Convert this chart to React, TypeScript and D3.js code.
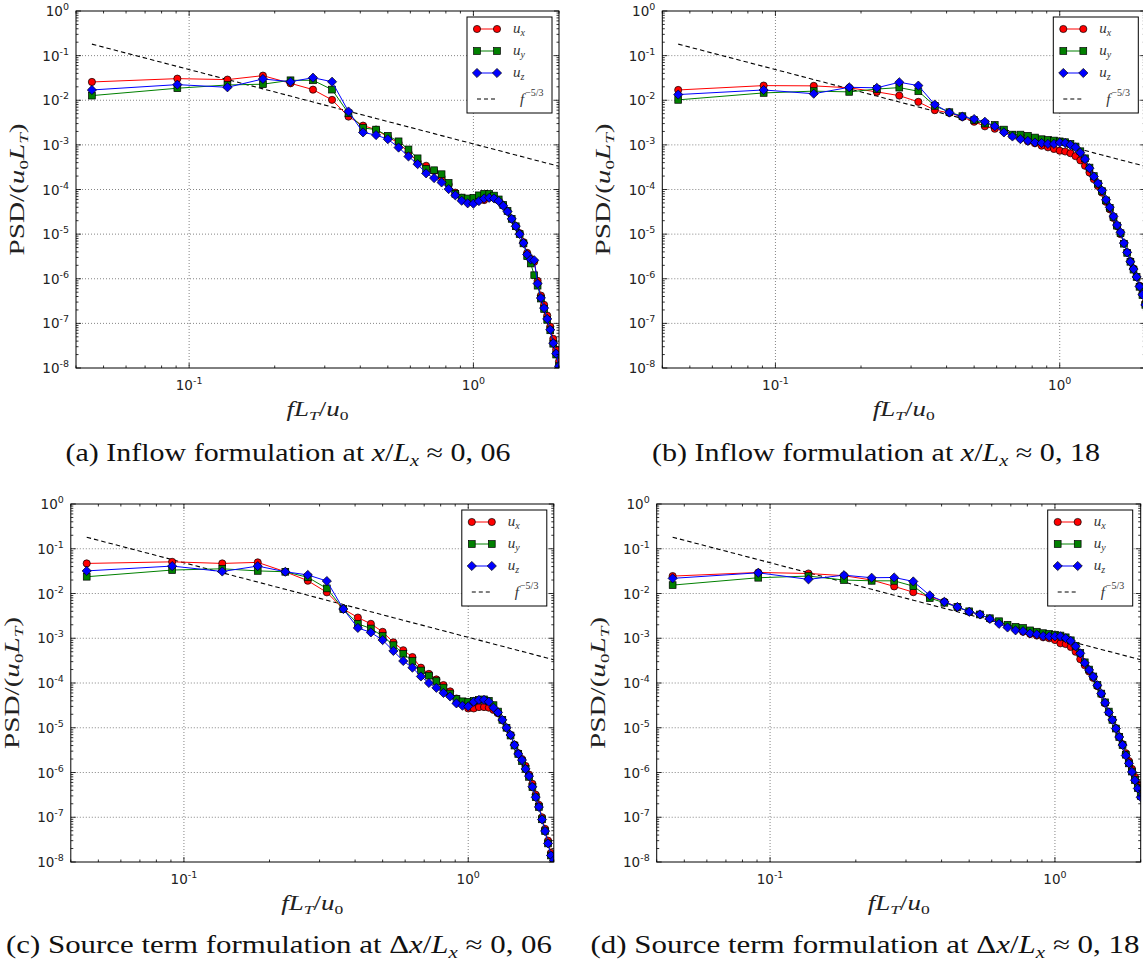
import React from 'react';
import * as d3 from 'd3';

/* ── Frequencies fL_T/u_0 (evenly spaced bins) ─────────────────── */
const FREQS = [
  0.0455, 0.0909, 0.1364, 0.1818, 0.2273, 0.2727, 0.3182, 0.3636, 0.4091, 0.4545,
  0.5, 0.5455, 0.5909, 0.6364, 0.6818, 0.7273, 0.7727, 0.8182, 0.8636, 0.9091,
  0.9545, 1.0, 1.0455, 1.0909, 1.1364, 1.1818, 1.2273, 1.2727, 1.3182, 1.3636,
  1.4091, 1.4545, 1.5, 1.5455, 1.5909, 1.6364, 1.6818, 1.7273, 1.7727, 1.8182,
  1.8636, 1.9091, 1.9545, 2.0,
];

// (a) inflow, x/Lx ~ 0.06
const A_UX = [
  0.0257, 0.0305, 0.029, 0.0356, 0.024, 0.0173, 0.0102, 0.0043, 0.0027, 0.0022,
  0.0015, 0.0011, 0.00068, 0.00042, 0.00034, 0.00026, 0.00019, 0.00013, 8.5e-5, 6.5e-5,
  5.5e-5, 5.4e-5, 5.8e-5, 5.8e-5, 6.6e-5, 6.5e-5, 5.7e-5, 4.5e-5, 3.3e-5, 2.2e-5,
  1.5e-5, 1.05e-5, 6.6e-6, 3.8e-6, 2.8e-6, 2.4e-6, 9e-7, 4.2e-7, 2.6e-7, 1.5e-7,
  8.5e-8, 4.5e-8, 2.6e-8, 1.4e-8,
];
const A_UY = [
  0.0127, 0.0186, 0.022, 0.0229, 0.028, 0.028, 0.0173, 0.0051, 0.0024, 0.0022,
  0.0016, 0.0012, 0.00079, 0.0005, 0.00029, 0.00027, 0.00022, 0.000141, 8e-5, 6.6e-5,
  6.3e-5, 6.5e-5, 7.4e-5, 8e-5, 8e-5, 7.3e-5, 6e-5, 4.5e-5, 3.3e-5, 2.2e-5,
  1.5e-5, 1e-5, 6.2e-6, 3.2e-6, 2.2e-6, 1.2e-6, 7e-7, 3.6e-7, 2.1e-7, 1.2e-7,
  7e-8, 3.5e-8, 2e-8, 1.1e-8,
];
const A_UZ = [
  0.017, 0.0224, 0.0195, 0.03, 0.026, 0.032, 0.026, 0.0056, 0.0019, 0.00166,
  0.00134, 0.00087, 0.00055, 0.00037, 0.00023, 0.00018, 0.000144, 0.000102, 7.4e-5, 5.6e-5,
  4.9e-5, 4.8e-5, 5.5e-5, 6.3e-5, 6.5e-5, 6.3e-5, 5.5e-5, 4.3e-5, 3.2e-5, 2.2e-5,
  1.5e-5, 1e-5, 6.3e-6, 3.5e-6, 2.7e-6, 2.6e-6, 7.8e-7, 3.7e-7, 2.2e-7, 1.26e-7,
  7.2e-8, 3.6e-8, 2.1e-8, 1.1e-8,
];

// (b) inflow, x/Lx ~ 0.18
const B_UX = [
  0.017, 0.0213, 0.021, 0.019, 0.0154, 0.0127, 0.0092, 0.006, 0.0052, 0.0042,
  0.0033, 0.0026, 0.0023, 0.002, 0.0016, 0.0014, 0.0012, 0.00109, 0.00096, 0.00088,
  0.00081, 0.00074, 0.00071, 0.00065, 0.00056, 0.00045, 0.00034, 0.00024, 0.00017, 0.00012,
  8.5e-5, 5.3e-5, 3.6e-5, 2.3e-5, 1.5e-5, 1e-5, 6.2e-6, 3.9e-6, 2.5e-6, 1.7e-6,
  1.1e-6, 7e-7, 4.6e-7, 2.9e-7,
];
const B_UY = [
  0.0102, 0.0146, 0.016, 0.0154, 0.0178, 0.0192, 0.0159, 0.0075, 0.0054, 0.0044,
  0.0036, 0.003, 0.0028, 0.0022, 0.0017, 0.0017, 0.0016, 0.00146, 0.00134, 0.00129,
  0.00125, 0.0012, 0.00115, 0.00105, 0.00092, 0.00072, 0.0005, 0.00031, 0.0002, 0.000135,
  9.2e-5, 5.7e-5, 3.9e-5, 2.4e-5, 1.55e-5, 1.05e-5, 6.1e-6, 3.8e-6, 2.4e-6, 1.6e-6,
  1.1e-6, 6.6e-7, 4.3e-7, 2.6e-7,
];
const B_UZ = [
  0.0134, 0.017, 0.014, 0.0195, 0.019, 0.0253, 0.0213, 0.008, 0.0053, 0.0043,
  0.0038, 0.0033, 0.0026, 0.0019, 0.00154, 0.00134, 0.00123, 0.00113, 0.0011, 0.00105,
  0.00105, 0.00113, 0.0011, 0.001, 0.00088, 0.00067, 0.00048, 0.0003, 0.000195, 0.000138,
  9.5e-5, 5.9e-5, 4e-5, 2.5e-5, 1.6e-5, 1.1e-5, 6.3e-6, 3.9e-6, 2.4e-6, 1.65e-6,
  1.1e-6, 6.7e-7, 4.4e-7, 2.6e-7,
];

// (c) source term, dx/Lx ~ 0.06
const C_UX = [
  0.047, 0.051, 0.047, 0.0496, 0.0306, 0.0193, 0.0106, 0.0045, 0.0029, 0.0021,
  0.00139, 0.00081, 0.00054, 0.00038, 0.00022, 0.00016, 0.00012, 9e-5, 6.5e-5, 4.5e-5,
  3.4e-5, 2.7e-5, 2.7e-5, 2.9e-5, 2.9e-5, 2.8e-5, 2.5e-5, 2.1e-5, 1.5e-5, 1e-5,
  6.9e-6, 4.2e-6, 2.7e-6, 2e-6, 1.4e-6, 9e-7, 5.6e-7, 3.2e-7, 1.9e-7, 1e-7,
  5.5e-8, 3e-8, 1.6e-8, 1.2e-8,
];
const C_UY = [
  0.0237, 0.0334, 0.0357, 0.032, 0.0306, 0.023, 0.013, 0.0045, 0.0021, 0.00165,
  0.00112, 0.0007, 0.00045, 0.00031, 0.00019, 0.000146, 0.00011, 7.9e-5, 5.8e-5, 4.4e-5,
  3.9e-5, 3.8e-5, 4e-5, 4.2e-5, 4.3e-5, 4e-5, 3.2e-5, 2.3e-5, 1.5e-5, 1e-5,
  6.7e-6, 4e-6, 2.6e-6, 1.8e-6, 1.2e-6, 8e-7, 4.7e-7, 2.8e-7, 1.7e-7, 9e-8,
  4.9e-8, 2.6e-8, 1.4e-8, 1.1e-8,
];
const C_UZ = [
  0.032, 0.041, 0.031, 0.041, 0.0306, 0.026, 0.019, 0.0045, 0.0017, 0.00135,
  0.00091, 0.00052, 0.00031, 0.00022, 0.00014, 0.0001, 7.8e-5, 6e-5, 5e-5, 3.5e-5,
  3.1e-5, 3e-5, 3.8e-5, 4.2e-5, 4.2e-5, 3.8e-5, 2.8e-5, 2.2e-5, 1.5e-5, 1e-5,
  6.9e-6, 4.1e-6, 2.6e-6, 1.9e-6, 1.2e-6, 8.3e-7, 4.8e-7, 2.8e-7, 1.7e-7, 8.9e-8,
  4.9e-8, 2.6e-8, 1.4e-8, 1.1e-8,
];

// (d) source term, dx/Lx ~ 0.18
const D_UX = [
  0.0245, 0.0295, 0.028, 0.025, 0.02, 0.0144, 0.0107, 0.0085, 0.0066, 0.005,
  0.0039, 0.0034, 0.0027, 0.0023, 0.0019, 0.0016, 0.0014, 0.00125, 0.00115, 0.00105,
  0.001, 0.00091, 0.00077, 0.00074, 0.00064, 0.0005, 0.00034, 0.00025, 0.00018, 0.00013,
  8.5e-5, 5.6e-5, 3.5e-5, 2.2e-5, 1.5e-5, 9.8e-6, 6.4e-6, 4.3e-6, 2.7e-6, 1.8e-6,
  1.2e-6, 8e-7, 5.5e-7, 4e-7,
];
const D_UY = [
  0.0154, 0.0225, 0.0245, 0.02, 0.0192, 0.0192, 0.0146, 0.0079, 0.0062, 0.005,
  0.004, 0.0034, 0.0028, 0.0024, 0.002, 0.0018, 0.0017, 0.0015, 0.0014, 0.0013,
  0.00125, 0.0012, 0.00115, 0.00105, 0.0009, 0.00068, 0.00047, 0.00029, 0.0002, 0.00014,
  9e-5, 5.8e-5, 3.7e-5, 2.3e-5, 1.5e-5, 9.6e-6, 6.2e-6, 4.1e-6, 2.5e-6, 1.6e-6,
  1.05e-6, 6.8e-7, 4.5e-7, 3e-7,
];
const D_UZ = [
  0.0218, 0.029, 0.0207, 0.0257, 0.0225, 0.0228, 0.0186, 0.0091, 0.0065, 0.005,
  0.0039, 0.0034, 0.0027, 0.0021, 0.00174, 0.0015, 0.00144, 0.00128, 0.00122, 0.00112,
  0.0011, 0.0011, 0.0011, 0.001, 0.00087, 0.00066, 0.00046, 0.00028, 0.000195, 0.000139,
  8.9e-5, 5.8e-5, 3.6e-5, 2.2e-5, 1.5e-5, 9.6e-6, 6.2e-6, 4.1e-6, 2.4e-6, 1.6e-6,
  1.03e-6, 6.7e-7, 4.4e-7, 2.8e-7,
];

const Y_EXPONENTS = [0, -1, -2, -3, -4, -5, -6, -7, -8];
const X_EXPONENTS = [-1, 0];
const REF_COEF = 1.05e-3; // f^-5/3 reference line

const COLORS = { ux: '#ff0000', uy: '#008000', uz: '#0000ff' };
const TICK_FONT = "'DejaVu Sans', sans-serif";
const MATH_FONT = "'Liberation Serif', serif";

/* ── layout of the four sub-figures ───────────────────────────── */
const PANELS = [
  { id: 'a', left: 76, top: 11, width: 483, height: 357, series: [A_UX, A_UY, A_UZ],
    capX: 288, capY: 461, capW: 445, kind: 'inflow', pos: '0, 06' },
  { id: 'b', left: 662.3, top: 11, width: 483, height: 357, series: [B_UX, B_UY, B_UZ],
    capX: 876, capY: 461, capW: 448, kind: 'inflow', pos: '0, 18' },
  { id: 'c', left: 70.8, top: 504, width: 483, height: 358, series: [C_UX, C_UY, C_UZ],
    capX: 279, capY: 953, capW: 546, kind: 'source', pos: '0, 06' },
  { id: 'd', left: 656.7, top: 504, width: 484, height: 358, series: [D_UX, D_UY, D_UZ],
    capX: 865, capY: 953, capW: 549, kind: 'source', pos: '0, 18' },
];

function Marker({ kind, cx, cy, color }) {
  if (kind === 'circle') {
    return <circle cx={cx} cy={cy} r={3.6} fill={color} stroke="#000" strokeWidth={0.7} />;
  }
  if (kind === 'square') {
    return <rect x={cx - 3.4} y={cy - 3.4} width={6.8} height={6.8} fill={color} stroke="#000" strokeWidth={0.7} />;
  }
  const r = 4.6;
  return <path d={`M${cx},${cy - r}L${cx + r},${cy}L${cx},${cy + r}L${cx - r},${cy}Z`} fill={color} stroke="#000" strokeWidth={0.7} />;
}

const SERIES_META = [
  { key: 'ux', marker: 'circle', sub: 'x' },
  { key: 'uy', marker: 'square', sub: 'y' },
  { key: 'uz', marker: 'diamond', sub: 'z' },
];

function Legend({ x0, y0 }) {
  const rows = [12, 34, 56];
  return (
    <g transform={`translate(${x0},${y0})`}>
      <rect x={0} y={0} width={85} height={96} fill="#fff" stroke="#000" strokeWidth={1} />
      {SERIES_META.map((s, i) => (
        <g key={s.key}>
          <line x1={10} x2={30} y1={rows[i]} y2={rows[i]} stroke={COLORS[s.key]} strokeWidth={1} />
          <Marker kind={s.marker} cx={10} cy={rows[i]} color={COLORS[s.key]} />
          <Marker kind={s.marker} cx={30} cy={rows[i]} color={COLORS[s.key]} />
          <text x={46} y={rows[i] + 4} fontFamily={MATH_FONT} fontSize={15} fontStyle="italic" fill="#333">
            u<tspan dy={3} fontSize={10}>{s.sub}</tspan>
          </text>
        </g>
      ))}
      <line x1={10} x2={31} y1={82} y2={82} stroke="#000" strokeWidth={1} strokeDasharray="4,3" />
      <text x={53} y={87} fontFamily={MATH_FONT} fontSize={15} fontStyle="italic" fill="#333">
        f<tspan dx={1} dy={-8} fontSize={10} fontStyle="normal">−5/3</tspan>
      </text>
    </g>
  );
}

function Panel({ p }) {
  const x = d3.scaleLog().domain([0.04, 2]).range([0, p.width]);
  const y = d3.scaleLog().domain([1e-8, 1]).range([p.height, 0]);
  const line = d3.line<number>().x((_, i) => x(FREQS[i])).y(d => y(d));
  const refLine = d3.line<number>().x(f => x(f)).y(f => y(REF_COEF * Math.pow(f, -5 / 3)));

  const yMinor = d3.range(-8, 0).flatMap(e => d3.range(2, 10).map(m => m * Math.pow(10, e)));
  const xMinor = x.ticks().filter(t => !X_EXPONENTS.some(e => Math.abs(t - Math.pow(10, e)) < 1e-9));
  const clipId = `clip-${p.id}`;

  return (
    <g transform={`translate(${p.left},${p.top})`}>
      <defs>
        <clipPath id={clipId}>
          <rect x={0} y={0} width={p.width} height={p.height} />
        </clipPath>
      </defs>
      {/* grid */}
      {Y_EXPONENTS.slice(1, -1).map(e => (
        <line key={`gy${e}`} x1={0} x2={p.width} y1={y(Math.pow(10, e))} y2={y(Math.pow(10, e))}
          stroke="#666" strokeWidth={0.8} strokeDasharray="1,2" />
      ))}
      {X_EXPONENTS.map(e => (
        <line key={`gx${e}`} x1={x(Math.pow(10, e))} x2={x(Math.pow(10, e))} y1={0} y2={p.height}
          stroke="#666" strokeWidth={0.8} strokeDasharray="1,2" />
      ))}

      <g clipPath={`url(#${clipId})`}>
        <path d={refLine(FREQS) || ''} fill="none" stroke="#000" strokeWidth={1.1} strokeDasharray="4.5,3" />
        {SERIES_META.map((s, si) => (
          <g key={s.key}>
            <path d={line(p.series[si]) || ''} fill="none" stroke={COLORS[s.key]} strokeWidth={1} />
            {p.series[si].map((v, i) => (
              <Marker key={i} kind={s.marker} cx={x(FREQS[i])} cy={y(v)} color={COLORS[s.key]} />
            ))}
          </g>
        ))}
      </g>

      {/* ticks, all four sides, inward */}
      <g stroke="#000" strokeWidth={0.8}>
        {Y_EXPONENTS.map(e => {
          const yy = y(Math.pow(10, e));
          return (
            <g key={`ty${e}`}>
              <line x1={0} x2={5} y1={yy} y2={yy} />
              <line x1={p.width - 5} x2={p.width} y1={yy} y2={yy} />
            </g>
          );
        })}
        {yMinor.map((v, i) => (
          <g key={`my${i}`}>
            <line x1={0} x2={2.5} y1={y(v)} y2={y(v)} />
            <line x1={p.width - 2.5} x2={p.width} y1={y(v)} y2={y(v)} />
          </g>
        ))}
        {X_EXPONENTS.map(e => {
          const xx = x(Math.pow(10, e));
          return (
            <g key={`tx${e}`}>
              <line x1={xx} x2={xx} y1={p.height} y2={p.height - 5} />
              <line x1={xx} x2={xx} y1={0} y2={5} />
            </g>
          );
        })}
        {xMinor.map((v, i) => (
          <g key={`mx${i}`}>
            <line x1={x(v)} x2={x(v)} y1={p.height} y2={p.height - 2.5} />
            <line x1={x(v)} x2={x(v)} y1={0} y2={2.5} />
          </g>
        ))}
      </g>
      <rect x={0} y={0} width={p.width} height={p.height} fill="none" stroke="#000" strokeWidth={1} />

      {/* tick labels */}
      {Y_EXPONENTS.map(e => (
        <text key={`ly${e}`} x={-7} y={y(Math.pow(10, e)) + 5} textAnchor="end"
          fontFamily={TICK_FONT} fontSize={13.5} fill="#222">
          10<tspan dy={-6} fontSize={9.5}>{String(e)}</tspan>
        </text>
      ))}
      {X_EXPONENTS.map(e => (
        <text key={`lx${e}`} x={x(Math.pow(10, e))} y={p.height + 22} textAnchor="middle"
          fontFamily={TICK_FONT} fontSize={13.5} fill="#222">
          10<tspan dy={-6} fontSize={9.5}>{String(e)}</tspan>
        </text>
      ))}

      {/* axis labels */}
      <text x={p.width / 2} y={p.height + 48} textAnchor="middle" fontFamily={MATH_FONT} fontSize={20}
        fill="#222" textLength={62} lengthAdjust="spacingAndGlyphs">
        <tspan fontStyle="italic">fL</tspan><tspan dy={4} fontSize={13} fontStyle="italic">T</tspan>
        <tspan dy={-4}>/</tspan><tspan fontStyle="italic">u</tspan><tspan dy={4} fontSize={13}>0</tspan>
      </text>
      <text transform={`translate(-52,${p.height / 2}) rotate(-90)`} textAnchor="middle"
        fontFamily={MATH_FONT} fontSize={20} fill="#222" textLength={132} lengthAdjust="spacingAndGlyphs">
        PSD/(<tspan fontStyle="italic">u</tspan><tspan dy={4} fontSize={13}>0</tspan>
        <tspan dy={-4} fontStyle="italic">L</tspan><tspan dy={4} fontSize={13} fontStyle="italic">T</tspan>
        <tspan dy={-4}>)</tspan>
      </text>

      <Legend x0={391} y0={6} />
    </g>
  );
}

function Caption({ p }) {
  const label = p.kind === 'inflow' ? 'Inflow formulation at ' : 'Source term formulation at ';
  return (
    <text x={p.capX} y={p.capY} textAnchor="middle" fontFamily={MATH_FONT} fontSize={25} fill="#111"
      textLength={p.capW} lengthAdjust="spacingAndGlyphs">
      ({p.id}) {label}
      {p.kind === 'source' ? 'Δ' : ''}
      <tspan fontStyle="italic">x</tspan>/<tspan fontStyle="italic">L</tspan>
      <tspan dy={5} fontSize={17} fontStyle="italic">x</tspan>
      <tspan dy={-5}> ≈ {p.pos}</tspan>
    </text>
  );
}

export default function App() {
  return (
    <div style={{ position: 'absolute', left: 0, top: 0 }}>
      <svg width={1143} height={963} style={{ display: 'block', background: '#fff' }}>
        {PANELS.map(p => (
          <g key={p.id}>
            <Panel p={p} />
            <Caption p={p} />
          </g>
        ))}
      </svg>
    </div>
  );
}
